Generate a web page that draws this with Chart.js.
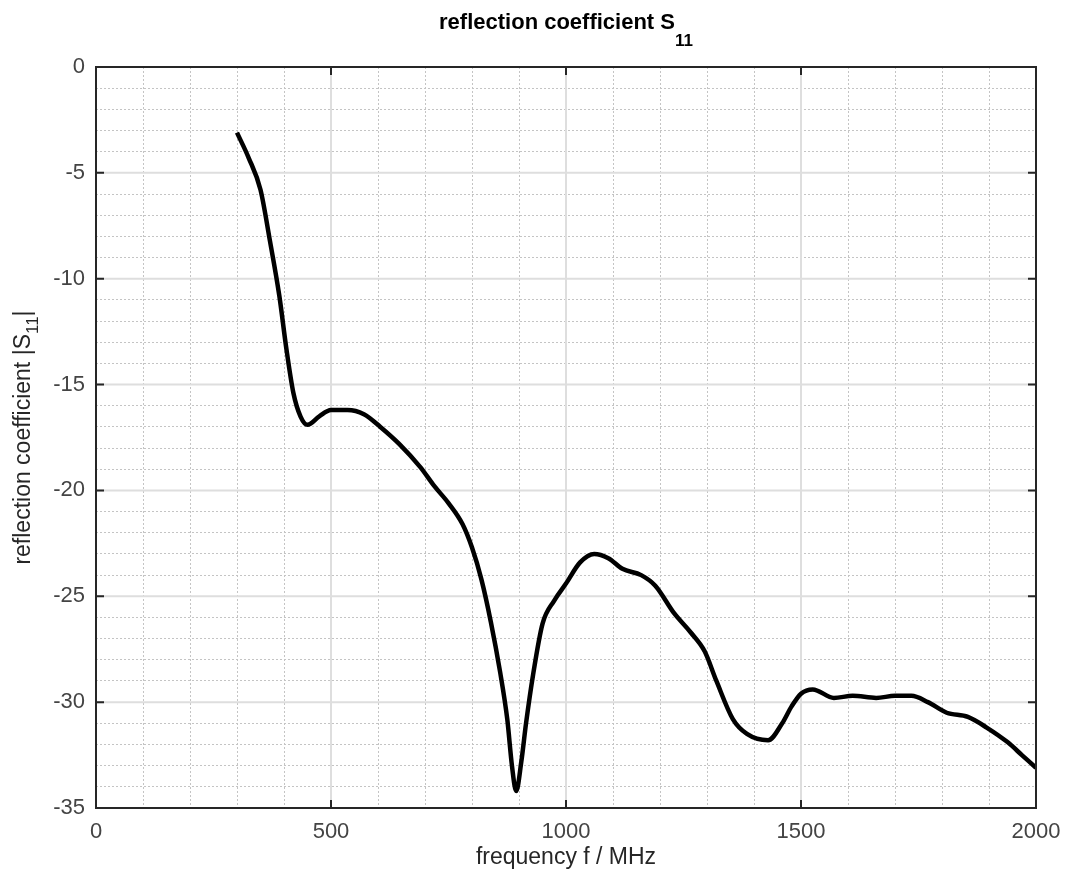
<!DOCTYPE html>
<html>
<head>
<meta charset="utf-8">
<script src="https://cdn.jsdelivr.net/npm/chart.js"></script>
<style>
  body { margin: 0; background: #fff; }
  #wrap { width: 1065px; height: 872px; }
</style>
</head>
<body>
<div id="wrap"><canvas id="s11Chart"></canvas></div>
<script>
// frequency in MHz and |S11| in dB
const freq = [300, 325, 350, 370, 390, 405, 420, 435, 450, 475, 500, 535, 570, 605, 645, 690, 720, 750, 780, 800,
  820, 840, 860, 875, 885, 894, 905, 915, 930, 950, 975, 1000, 1030, 1060, 1090, 1120, 1160, 1190, 1230, 1265,
  1295, 1320, 1355, 1385, 1430, 1460, 1480, 1500, 1525, 1570, 1610, 1660, 1700, 1735, 1770, 1810, 1855, 1895,
  1940, 1970, 2000];
const s11 = [-3.1, -4.3, -5.8, -8.2, -10.8, -13.3, -15.4, -16.5, -16.9, -16.5, -16.2, -16.2, -16.4, -17.0, -17.8,
  -18.9, -19.8, -20.6, -21.6, -22.7, -24.2, -26.2, -28.6, -30.8, -33.0, -34.2, -32.8, -31.0, -28.7, -26.3, -25.2,
  -24.4, -23.4, -23.0, -23.2, -23.7, -24.0, -24.5, -25.8, -26.7, -27.6, -29.0, -30.8, -31.5, -31.8, -31.0, -30.2,
  -29.6, -29.4, -29.8, -29.7, -29.8, -29.7, -29.7, -30.0, -30.5, -30.7, -31.2, -31.9, -32.5, -33.1];

const xTicks = [0, 500, 1000, 1500, 2000];
const yTicks = [0, -5, -10, -15, -20, -25, -30, -35];

const FONT = '"Liberation Sans", Arial, sans-serif';

// draws text made of [text, isSubscript] pieces, centred on (0,0)
function drawPieces(ctx, pieces, size, weight, subSize, subDrop) {
  let total = 0;
  const widths = pieces.map(p => {
    ctx.font = weight + ' ' + (p[1] ? subSize : size) + 'px ' + FONT;
    const w = ctx.measureText(p[0]).width;
    total += w;
    return w;
  });
  let x = -total / 2;
  pieces.forEach((p, i) => {
    ctx.font = weight + ' ' + (p[1] ? subSize : size) + 'px ' + FONT;
    ctx.fillText(p[0], x, p[1] ? subDrop : 0);
    x += widths[i];
  });
}

const framePlugin = {
  id: 'frame',
  beforeDatasetsDraw(chart) {
    const { ctx, chartArea: a, scales } = chart;
    ctx.save();
    ctx.strokeStyle = '#dedede';
    ctx.lineWidth = 2;
    xTicks.forEach(v => {
      const px = scales.x.getPixelForValue(v);
      ctx.beginPath(); ctx.moveTo(px, a.top); ctx.lineTo(px, a.bottom); ctx.stroke();
    });
    yTicks.forEach(v => {
      const py = scales.y.getPixelForValue(v);
      ctx.beginPath(); ctx.moveTo(a.left, py); ctx.lineTo(a.right, py); ctx.stroke();
    });
    ctx.restore();
  },
  afterDatasetsDraw(chart) {
    const { ctx, chartArea: a, scales } = chart;
    ctx.save();
    ctx.strokeStyle = '#262626';
    ctx.lineWidth = 2;
    ctx.strokeRect(a.left, a.top, a.right - a.left, a.bottom - a.top);
    const tl = 8;
    xTicks.forEach(v => {
      const px = scales.x.getPixelForValue(v);
      ctx.beginPath();
      ctx.moveTo(px, a.bottom); ctx.lineTo(px, a.bottom - tl);
      ctx.moveTo(px, a.top); ctx.lineTo(px, a.top + tl);
      ctx.stroke();
    });
    yTicks.forEach(v => {
      const py = scales.y.getPixelForValue(v);
      ctx.beginPath();
      ctx.moveTo(a.left, py); ctx.lineTo(a.left + tl, py);
      ctx.moveTo(a.right, py); ctx.lineTo(a.right - tl, py);
      ctx.stroke();
    });

    // title
    ctx.fillStyle = '#000';
    ctx.textBaseline = 'alphabetic';
    ctx.translate((a.left + a.right) / 2, 29);
    drawPieces(ctx, [['reflection coefficient S', false], ['11', true]], 22, 'bold', 17, 17);
    ctx.restore();

    // y axis label
    ctx.save();
    ctx.fillStyle = '#262626';
    ctx.textBaseline = 'alphabetic';
    ctx.translate(30, (a.top + a.bottom) / 2);
    ctx.rotate(-Math.PI / 2);
    drawPieces(ctx, [['reflection coefficient |S', false], ['11', true], ['|', false]], 23, 'normal', 17, 8);
    ctx.restore();
  }
};

const ctx = document.getElementById('s11Chart').getContext('2d');
const chart = new Chart(ctx, {
  type: 'line',
  data: {
    datasets: [{
      data: freq.map((f, i) => ({ x: f, y: s11[i] })),
      borderColor: '#000',
      borderWidth: 4.5,
      pointRadius: 0,
      cubicInterpolationMode: 'monotone',
      fill: false
    }]
  },
  options: {
    responsive: true,
    maintainAspectRatio: false,
    animation: false,
    layout: { padding: { left: 0, top: 67, right: 29, bottom: 0 } },
    plugins: { legend: { display: false }, tooltip: { enabled: false } },
    scales: {
      x: {
        type: 'linear',
        min: 0,
        max: 2000,
        afterFit: s => { s.height = 64; s.paddingLeft = 0; s.paddingRight = 0; },
        ticks: {
          stepSize: 100,
          autoSkip: false,
          maxRotation: 0,
          padding: 11,
          color: '#444',
          font: { family: FONT, size: 22 },
          callback: v => xTicks.includes(v) ? String(v) : ''
        },
        grid: {
          drawTicks: false,
          lineWidth: 1,
          color: c => (c.tick && c.tick.value % 500 === 0) ? 'rgba(0,0,0,0)' : '#c4c4c4'
        },
        border: { display: false, dash: [2, 2] },
        title: {
          display: true,
          text: 'frequency f / MHz',
          color: '#262626',
          font: { family: FONT, size: 23 },
          padding: { top: 0, bottom: 1 }
        }
      },
      y: {
        type: 'linear',
        min: -35,
        max: 0,
        afterFit: s => { s.width = 96; s.paddingTop = 0; s.paddingBottom = 0; },
        ticks: {
          stepSize: 1,
          autoSkip: false,
          padding: 11,
          color: '#444',
          font: { family: FONT, size: 22 },
          callback: v => yTicks.includes(v) ? String(v) : ''
        },
        grid: {
          drawTicks: false,
          lineWidth: 1,
          color: c => (c.tick && c.tick.value % 5 === 0) ? 'rgba(0,0,0,0)' : '#c4c4c4'
        },
        border: { display: false, dash: [2, 2] }
      }
    }
  },
  plugins: [framePlugin]
});
</script>
</body>
</html>
